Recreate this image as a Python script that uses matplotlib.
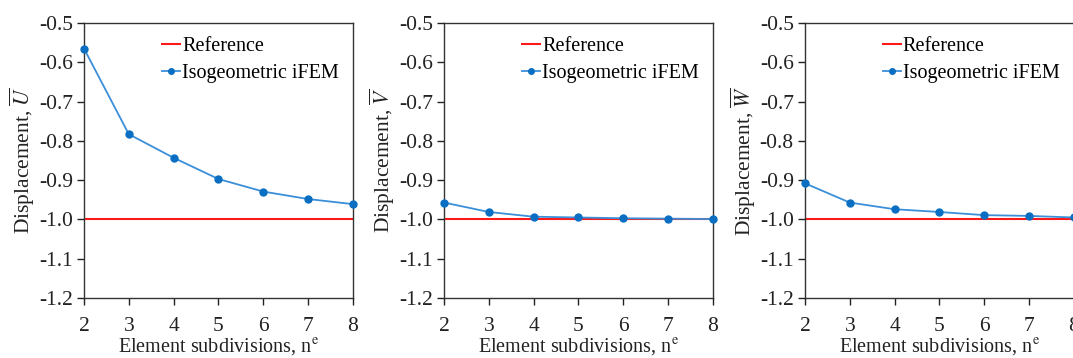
import matplotlib
matplotlib.use("Agg")
import matplotlib.pyplot as plt

plt.rcParams['font.family'] = ['Liberation Serif', 'DejaVu Serif']
plt.rcParams['mathtext.fontset'] = 'stix'

n_elem = [2, 3, 4, 5, 6, 7, 8]
u_ifem = [-0.565, -0.783, -0.843, -0.897, -0.929, -0.948, -0.961]
v_ifem = [-0.957, -0.981, -0.993, -0.995, -0.997, -0.998, -0.999]
w_ifem = [-0.908, -0.957, -0.974, -0.981, -0.989, -0.991, -0.995]
reference = -1.0
ylabels = [r'Displacement, $\overline{U}$',
           r'Displacement, $\overline{V}$',
           r'Displacement, $\overline{W}$']
yticks = [-0.5, -0.6, -0.7, -0.8, -0.9, -1.0, -1.1, -1.2]

fig = plt.figure(figsize=(10.73, 3.58), dpi=100)
lefts = [0.0783, 0.4138, 0.7502]

for left, vals, ylab in zip(lefts, [u_ifem, v_ifem, w_ifem], ylabels):
    ax = fig.add_axes([left, 0.1676, 0.2505, 0.768])
    ax.plot([n_elem[0], n_elem[-1]], [reference, reference], color='#ff1a1a',
            lw=1.5, label='Reference', zorder=2)
    ax.plot(n_elem, vals, color='#3a8fd8', lw=1.3, marker='o', ms=5,
            mfc='#0a6fc2', mec='#0a6fc2', label='Isogeometric iFEM',
            zorder=3, clip_on=False)
    ax.set_xlim(2, 8)
    ax.set_ylim(-1.2, -0.5)
    ax.set_yticks(yticks)
    ax.set_yticklabels([f'{t:.1f}' for t in yticks])
    ax.set_xticks(n_elem)
    ax.tick_params(direction='out', length=5, width=1, labelsize=15.5,
                   colors='#222222')
    ax.tick_params(axis='x', pad=9)
    ax.tick_params(axis='y', pad=3)
    for s in ax.spines.values():
        s.set_color('#333333')
        s.set_linewidth(1.0)
    ax.set_xlabel('Element subdivisions, n$^{\\mathrm{e}}$', fontsize=14.5,
                  color='#222222', labelpad=0)
    ax.set_ylabel(ylab, fontsize=15.5, color='#222222', labelpad=1)
    ax.legend(loc='upper right', frameon=False, fontsize=14.5,
              handlelength=0.9, handletextpad=0.1, labelspacing=0.4,
              borderaxespad=0.3, markerscale=0.8)

plt.savefig('out.png', dpi=100)
